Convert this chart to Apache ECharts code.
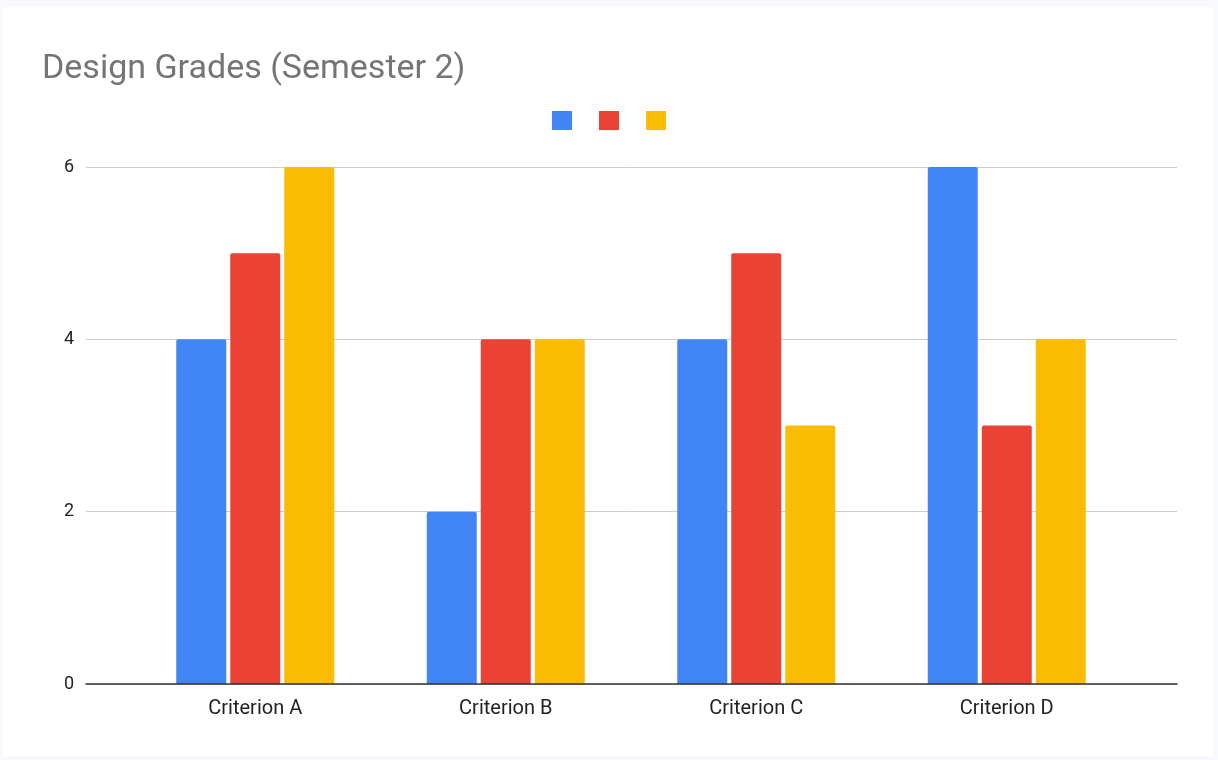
<!DOCTYPE html>
<html>
<head>
<meta charset="utf-8">
<script src="https://cdn.jsdelivr.net/npm/echarts@6/dist/echarts.min.js"></script>
<style>
  html, body { margin: 0; padding: 0; background: #f8f9fe; }
  #wrap { position: relative; width: 1218px; height: 760px; background: #f8f9fe; }
  #chart { position: absolute; left: 3px; top: 7px; width: 1210px; height: 749px; background: #ffffff; }
</style>
</head>
<body>
<div id="wrap"><div id="chart"></div></div>
<script>
const titleText = 'Design Grades (Semester 2)';
const categories = ['Criterion A', 'Criterion B', 'Criterion C', 'Criterion D'];
const seriesNames = ['Series 1', 'Series 2', 'Series 3'];
const series1 = [4, 2, 4, 6];
const series2 = [5, 4, 5, 3];
const series3 = [6, 4, 3, 4];
const colors = ['#4285f4', '#ea4335', '#fbbc04'];
const yTicks = { min: 0, max: 6, interval: 2 };

const chart = echarts.init(document.getElementById('chart'), null, { renderer: 'canvas' });

const seriesData = [series1, series2, series3];

const option = {
  animation: false,
  backgroundColor: '#ffffff',
  color: colors,
  title: {
    text: titleText,
    left: 34,
    top: 40,
    textStyle: { fontFamily: 'Roboto', fontSize: 34, fontWeight: 'normal', color: '#757575' }
  },
  legend: {
    left: 549,
    top: 104,
    padding: 0,
    itemWidth: 20,
    itemHeight: 19,
    itemGap: 27,
    icon: 'rect',
    formatter: function () { return ''; },
    data: seriesNames,
    textStyle: { fontSize: 1 }
  },
  grid: [
    { left: 83, right: 36, top: 160, bottom: 72 },
    { left: 127, right: 81, top: 160, bottom: 72 }
  ],
  xAxis: [
    {
      gridIndex: 0, type: 'value', min: 0, max: 1,
      axisLine: { show: true, lineStyle: { color: '#333333', width: 1.5 } },
      axisTick: { show: false }, axisLabel: { show: false }, splitLine: { show: false },
      z: 10
    },
    {
      gridIndex: 1, type: 'category', data: categories,
      axisLine: { show: false }, axisTick: { show: false },
      axisLabel: { fontFamily: 'Roboto', fontSize: 20, color: '#222222', margin: 15 }
    }
  ],
  yAxis: [
    {
      gridIndex: 0, type: 'value', min: yTicks.min, max: yTicks.max, interval: yTicks.interval,
      axisLine: { show: false }, axisTick: { show: false },
      axisLabel: { fontFamily: 'Roboto', fontSize: 18, color: '#222222', margin: 12 },
      splitLine: { show: true, lineStyle: { color: '#cccccc', width: 1 } }
    },
    {
      gridIndex: 1, type: 'value', min: yTicks.min, max: yTicks.max, interval: yTicks.interval,
      show: false
    }
  ],
  series: seriesNames.map(function (name, i) {
    return {
      name: name,
      type: 'bar',
      xAxisIndex: 1,
      yAxisIndex: 1,
      data: seriesData[i],
      barWidth: 50,
      barGap: '8%',
      itemStyle: { color: colors[i], borderRadius: [2, 2, 0, 0] },
      z: 2
    };
  })
};

chart.setOption(option);
</script>
</body>
</html>
